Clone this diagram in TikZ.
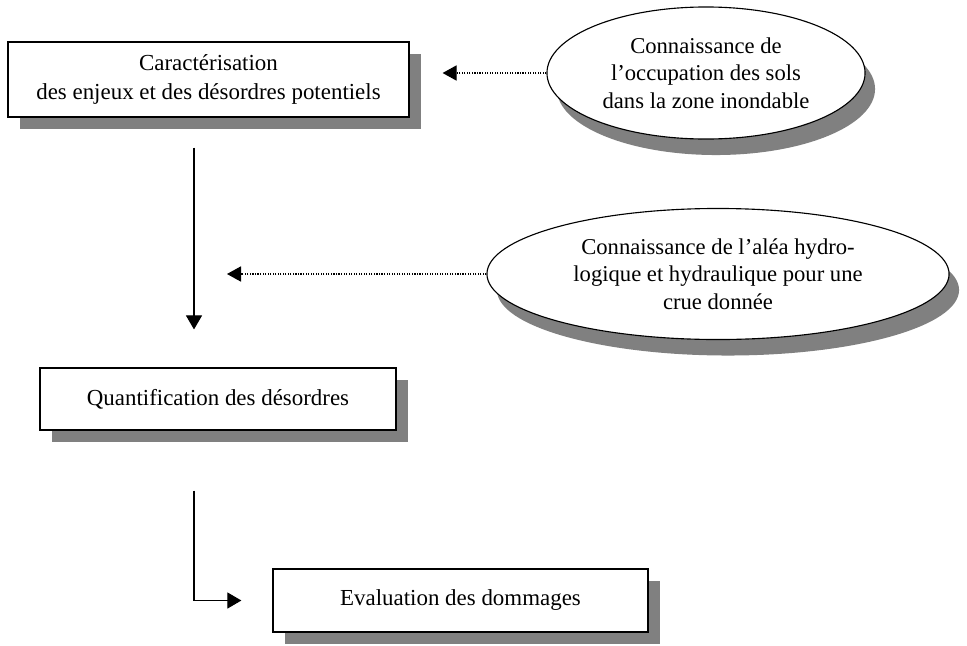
\documentclass[tikz,border=0pt]{standalone}
\usepackage{fontspec}
\setmainfont{Liberation Serif}
\usetikzlibrary{shapes.geometric,shadows,arrows.meta}

\begin{document}
\begin{tikzpicture}[x=0.025cm,y=-0.025cm]

    \tikzset{
      etape/.style={
        draw,
        line width=0.8pt,
        fill=white,
        align=center,
        inner sep=0pt,
        font=\fontsize{16.3}{20.5}\selectfont,
        drop shadow={shadow xshift=0.3cm,shadow yshift=-0.3cm,fill=black!50,opacity=1},
      },
      savoir/.style={
        draw,
        ellipse,
        line width=0.8pt,
        fill=white,
        align=center,
        inner sep=0pt,
        font=\fontsize{16.1}{19.6}\selectfont,
        drop shadow={shadow xshift=0.25cm,shadow yshift=-0.4cm,fill=black!50,opacity=1},
      },
      flux/.style={line width=0.8pt,-{Triangle[length=0.35cm,width=0.4cm]}},
      apport/.style={line width=0.8pt,densely dotted,-{Triangle[length=0.35cm,width=0.38cm]}},
    }
    \useasboundingbox (0,0) rectangle (967,645);

	\node[etape,minimum width=10.025cm,minimum height=1.875cm] (carac) at (208.5,79.5) {Caractérisation\\des enjeux et des désordres potentiels};
	\node[etape,minimum width=8.9cm,minimum height=1.55cm] (quant) at (218,399) {Quantification des désordres};
	\node[etape,minimum width=9.375cm,minimum height=1.575cm] (eval) at (460.5,600.5) {Evaluation des dommages};
	\node[savoir,minimum width=7.95cm,minimum height=3.3cm] (occup) at (706,73) {Connaissance de\\l’occupation des sols\\dans la zone inondable};
	\node[savoir,minimum width=11.55cm,minimum height=3.275cm] (alea) at (718,274) {Connaissance de l’aléa hydro-\\logique et hydraulique pour une\\crue donnée};
	\coordinate (axe) at (194,0);

	\draw[flux,shorten <=30*0.025cm,shorten >=38*0.025cm] (carac.south -| axe) -- (quant.north -| axe);
	\draw[apport,shorten >=33*0.025cm] (occup.west) -- (occup.west -| carac.east);
	\draw[apport,shorten >=33*0.025cm] (alea.west) -- (alea.west -| axe);
	\draw[flux,shorten <=60*0.025cm,shorten >=31*0.025cm] (quant.south -| axe) |- (eval.west);

\end{tikzpicture}
\end{document}
